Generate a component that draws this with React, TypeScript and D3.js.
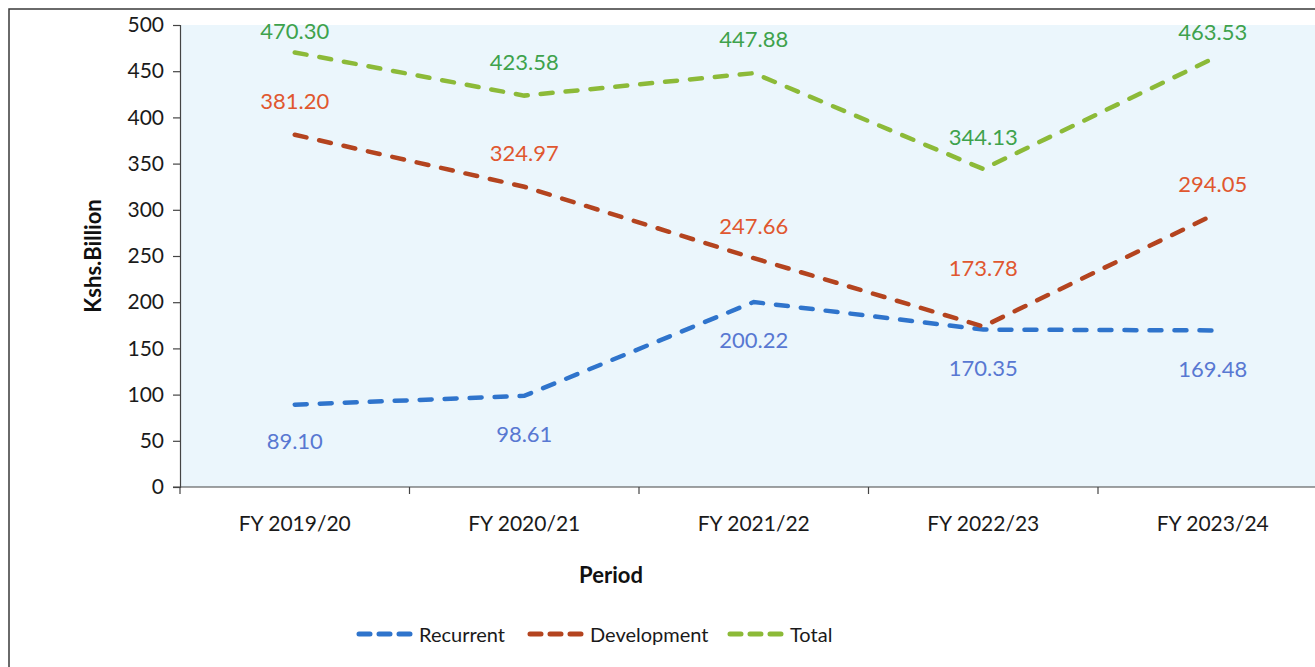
import React, { useEffect, useRef } from 'react'
import * as d3 from 'd3'

const periods = ['FY 2019/20', 'FY 2020/21', 'FY 2021/22', 'FY 2022/23', 'FY 2023/24']
const recurrent = [89.1, 98.61, 200.22, 170.35, 169.48]
const development = [381.2, 324.97, 247.66, 173.78, 294.05]
const total = [470.3, 423.58, 447.88, 344.13, 463.53]
const yTicks = [0, 50, 100, 150, 200, 250, 300, 350, 400, 450, 500]

// label offsets (px from point, text centre)
const recurrentDy = [36, 38, 38, 38, 38]
const developmentDy = [-34, -34, -33, -59, -32]
const totalDy = [-22, -34, -35, -33, -27]

const series = [
  { name: 'Recurrent', values: recurrent, dy: recurrentDy, line: '#2F74CC', label: '#5878D2' },
  { name: 'Development', values: development, dy: developmentDy, line: '#B4441F', label: '#E0572F' },
  { name: 'Total', values: total, dy: totalDy, line: '#8CBA38', label: '#3EA24C' },
]

const W = 1315
const H = 667
const FONT = 'Lato, "Open Sans", sans-serif'

export default function App() {
  const svgRef = useRef<SVGSVGElement>(null)

  useEffect(() => {
    if (!svgRef.current) return
    const svg = d3.select(svgRef.current)
    svg.selectAll('*').remove()

    const left = 180
    const top = 25
    const bottom = 487
    const bandW = 229.5

    const x = d3.scaleBand<string>()
      .domain(periods)
      .range([left, left + bandW * periods.length])
      .padding(0)
    const cx = (p: string) => (x(p) ?? 0) + x.bandwidth() / 2

    const y = d3.scaleLinear().domain([0, 500]).range([bottom, top])

    // outer frame
    svg.append('rect')
      .attr('x', 9).attr('y', 9)
      .attr('width', W + 20).attr('height', H + 20)
      .attr('fill', '#fff')
      .attr('stroke', '#3a3a3a')
      .attr('stroke-width', 1.5)

    // plot area
    svg.append('rect')
      .attr('x', left).attr('y', top)
      .attr('width', W - left).attr('height', bottom - top)
      .attr('fill', '#EBF6FC')

    // y axis
    const yAxis = d3.axisLeft(y).tickValues(yTicks).tickSize(7).tickFormat(d => `${d}`)
    const gy = svg.append('g').attr('transform', `translate(${left},0)`).call(yAxis)
    gy.select('.domain').attr('stroke', '#444').attr('stroke-width', 1.2)
    gy.selectAll('.tick line').attr('stroke', '#444').attr('stroke-width', 1.2)
    gy.selectAll('.tick text')
      .attr('x', -16)
      .attr('font-family', FONT)
      .attr('font-size', 21)
      .attr('fill', '#1a1a1a')

    // x axis
    svg.append('line')
      .attr('x1', left - 7).attr('x2', W)
      .attr('y1', bottom).attr('y2', bottom)
      .attr('stroke', '#444').attr('stroke-width', 1.2)
    svg.selectAll('.xtick')
      .data(periods)
      .enter()
      .append('line')
      .attr('class', 'xtick')
      .attr('x1', d => x(d) ?? 0).attr('x2', d => x(d) ?? 0)
      .attr('y1', bottom).attr('y2', bottom + 7)
      .attr('stroke', '#444').attr('stroke-width', 1.2)
    svg.selectAll('.xlabel')
      .data(periods)
      .enter()
      .append('text')
      .attr('class', 'xlabel')
      .attr('x', d => cx(d))
      .attr('y', 522)
      .attr('text-anchor', 'middle')
      .attr('dominant-baseline', 'central')
      .attr('font-family', FONT)
      .attr('font-size', 21)
      .attr('fill', '#1a1a1a')
      .text(d => d)

    // axis titles
    svg.append('text')
      .attr('transform', 'rotate(-90)')
      .attr('x', -256).attr('y', 92)
      .attr('text-anchor', 'middle')
      .attr('dominant-baseline', 'central')
      .attr('font-family', FONT)
      .attr('font-weight', 'bold')
      .attr('font-size', 22)
      .attr('fill', '#111')
      .text('Kshs.Billion')

    svg.append('text')
      .attr('x', 611).attr('y', 574)
      .attr('text-anchor', 'middle')
      .attr('dominant-baseline', 'central')
      .attr('font-family', FONT)
      .attr('font-weight', 'bold')
      .attr('font-size', 22)
      .attr('fill', '#111')
      .text('Period')

    const line = d3.line<number>()
      .x((_, i) => cx(periods[i]))
      .y(d => y(d))

    series.forEach(s => {
      svg.append('path')
        .datum(s.values)
        .attr('fill', 'none')
        .attr('stroke', s.line)
        .attr('stroke-width', 4.5)
        .attr('stroke-linecap', 'round')
        .attr('stroke-dasharray', '12,13')
        .attr('d', line)
    })

    series.forEach(s => {
      svg.selectAll(null)
        .data(s.values)
        .enter()
        .append('text')
        .attr('x', (_, i) => cx(periods[i]))
        .attr('y', (d, i) => y(d) + s.dy[i])
        .attr('text-anchor', 'middle')
        .attr('dominant-baseline', 'central')
        .attr('font-family', FONT)
        .attr('font-size', 22)
        .attr('fill', s.label)
        .text(d => d.toFixed(2))
    })

    // legend
    const legendX = [357, 528, 728]
    series.forEach((s, i) => {
      const g = svg.append('g').attr('transform', `translate(${legendX[i]},634)`)
      g.append('line')
        .attr('x1', 2).attr('x2', 54)
        .attr('y1', 0).attr('y2', 0)
        .attr('stroke', s.line)
        .attr('stroke-width', 5)
        .attr('stroke-linecap', 'round')
        .attr('stroke-dasharray', '11,9')
      g.append('text')
        .attr('x', 62).attr('y', 0)
        .attr('dominant-baseline', 'central')
        .attr('font-family', FONT)
        .attr('font-size', 20)
        .attr('fill', '#1a1a1a')
        .text(s.name)
    })
  }, [])

  return (
    <svg
      ref={svgRef}
      width={W}
      height={H}
      style={{ position: 'absolute', left: 0, top: 0, display: 'block' }}
    />
  )
}
